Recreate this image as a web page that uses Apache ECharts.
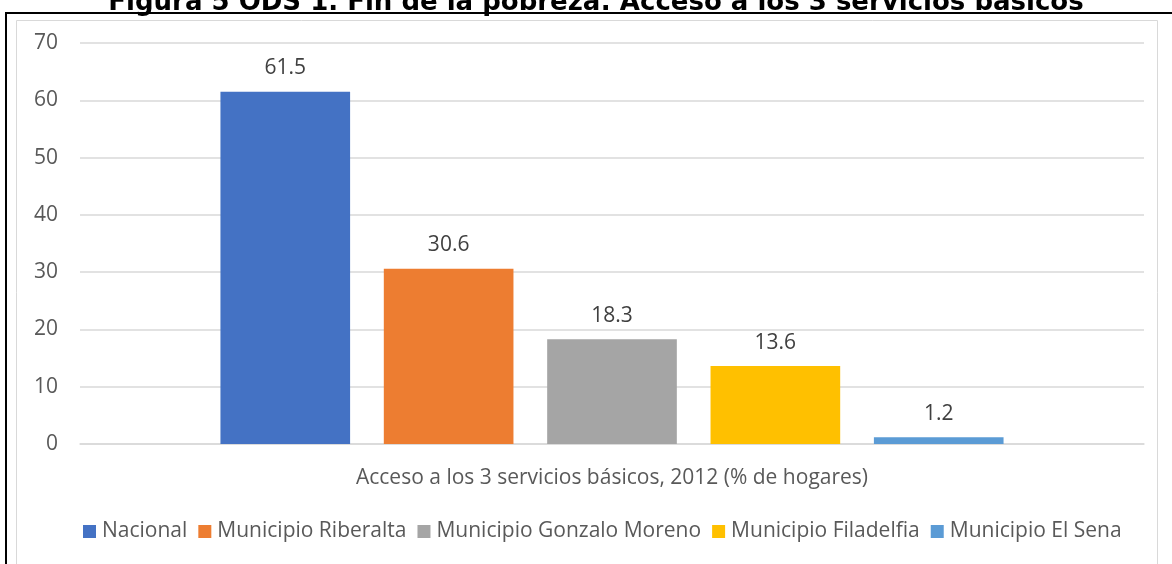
<!DOCTYPE html>
<html>
<head>
<meta charset="utf-8">
<title>Figura 5 ODS 1</title>
<script src="https://cdn.jsdelivr.net/npm/echarts@6/dist/echarts.min.js"></script>
<style>
  html, body { margin: 0; padding: 0; background: #fff; }
  #chart { width: 1172px; height: 564px; }
</style>
</head>
<body>
<div id="chart"></div>
<script>
// categoría única del eje X
const categories = ['Acceso a los 3 servicios básicos, 2012 (% de hogares)']
// nombres de las series (leyenda)
const seriesNames = ['Nacional', 'Municipio Riberalta', 'Municipio Gonzalo Moreno', 'Municipio Filadelfia', 'Municipio El Sena']
// valores por serie
const seriesValues = [61.5, 30.6, 18.3, 13.6, 1.2]
// colores de las series
const seriesColors = ['#4472C4', '#ED7D31', '#A5A5A5', '#FFC000', '#5B9BD5']
// ticks eje Y
const yTicks = [0, 10, 20, 30, 40, 50, 60, 70]

const font = '"Open Sans", "Noto Sans", sans-serif'

const chart = echarts.init(document.getElementById('chart'))

const series = seriesNames.map((name, i) => ({
  name: name,
  type: 'bar',
  data: [seriesValues[i]],
  barGap: '26%',
  barCategoryGap: '26.4%',
  itemStyle: { color: seriesColors[i] },
  label: {
    show: true,
    position: 'top',
    distance: 13,
    fontFamily: font,
    fontSize: 21,
    color: '#404040',
    formatter: (p) => p.value.toFixed(1)
  }
}))

chart.setOption({
  animation: false,
  textStyle: { fontFamily: font },
  graphic: [
    // marco exterior negro
    {
      type: 'rect',
      shape: { x: 6, y: 13, width: 1180, height: 600 },
      style: { fill: 'none', stroke: '#000', lineWidth: 2 },
      silent: true
    },
    // borde gris del área del gráfico
    {
      type: 'rect',
      shape: { x: 16.5, y: 20.5, width: 1141, height: 600 },
      style: { fill: 'none', stroke: '#D9D9D9', lineWidth: 1 },
      silent: true
    },
    // título (cortado arriba)
    {
      type: 'text',
      x: 596,
      y: 16,
      style: {
        text: 'Figura 5 ODS 1. Fin de la pobreza: Acceso a los 3 servicios básicos',
        fontFamily: '"DejaVu Sans", Verdana, sans-serif',
        fontWeight: 'bold',
        fontSize: 26,
        fill: '#000',
        align: 'center',
        verticalAlign: 'bottom'
      }
    }
  ],
  legend: {
    data: seriesNames,
    left: 83,
    top: 521,
    padding: 0,
    itemWidth: 13,
    itemHeight: 13,
    itemGap: 11,
    icon: 'rect',
    textStyle: { fontFamily: font, fontSize: 21, color: '#595959', padding: [0, 0, 0, 1] }
  },
  grid: { left: 80, right: 28, top: 43, height: 401, containLabel: false },
  xAxis: {
    type: 'category',
    data: categories,
    axisTick: { show: false },
    axisLine: { lineStyle: { color: '#D9D9D9', width: 1.5 } },
    axisLabel: { margin: 24, fontFamily: font, fontSize: 21, color: '#595959' }
  },
  yAxis: {
    type: 'value',
    min: yTicks[0],
    max: yTicks[yTicks.length - 1],
    interval: 10,
    axisLine: { show: false },
    axisTick: { show: false },
    axisLabel: { margin: 22, fontFamily: font, fontSize: 21, color: '#595959' },
    splitLine: { lineStyle: { color: '#D9D9D9', width: 1.5 } }
  },
  series: series
})
</script>
</body>
</html>
